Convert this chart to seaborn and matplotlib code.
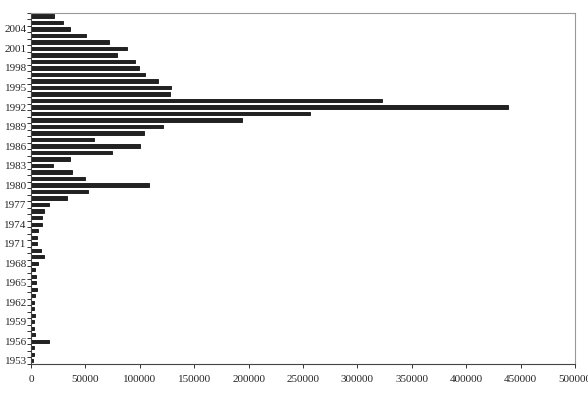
import numpy as np
import pandas as pd
import matplotlib
matplotlib.use("Agg")
import matplotlib.pyplot as plt
import seaborn as sns

# years from top (2006) down to 1953
years = list(range(2006, 1952, -1))
values = [21000, 29000, 36000, 51000, 72000, 88500, 79000, 95500, 99000, 105000,
          116500, 128500, 128000, 323000, 438500, 256500, 193500, 121500, 103500, 58000,
          100000, 74500, 36000, 20000, 37500, 50000, 108000, 52000, 33500, 17000,
          11500, 10000, 10000, 6000, 5800, 5800, 9200, 12000, 6000, 3400,
          4900, 4900, 5200, 4000, 3100, 3100, 3400, 2800, 3100, 3700,
          16800, 2500, 3100, 2100]
label_years = list(range(1953, 2005, 3))

df = pd.DataFrame({"year": [str(y) for y in years], "value": values})

sns.set_style("white")
plt.rcParams["font.family"] = ["Liberation Serif", "DejaVu Serif"]

fig, ax = plt.subplots(figsize=(5.88, 4.04), dpi=100)
fig.subplots_adjust(left=31 / 588, right=575 / 588, top=1 - 12.7 / 404, bottom=1 - 364 / 404)

sns.barplot(data=df, x="value", y="year", order=[str(y) for y in years],
            color="#222222", saturation=1, width=0.5, orient="h",
            edgecolor="#222222", linewidth=0.7, ax=ax)

ax.set_xlim(0, 500000)
ax.set_ylim(len(years) - 0.5, -0.5)
ax.set_xticks(np.arange(0, 500001, 50000))
ax.set_xticklabels([str(v) for v in range(0, 500001, 50000)], fontsize=8)

ax.set_yticks([years.index(y) for y in label_years])
ax.set_yticklabels([str(y) for y in label_years], fontsize=8)
ax.set_yticks(np.arange(-0.5, len(years), 1), minor=True)
ax.tick_params(axis="y", which="major", length=0, pad=3)
ax.tick_params(axis="y", which="minor", length=3, width=0.7, color="#333333", direction="out", left=True)
ax.tick_params(axis="x", which="major", length=3, width=0.7, color="#333333", direction="out", bottom=True, pad=5)

ax.set_xlabel("")
ax.set_ylabel("")
for side in ["left", "bottom"]:
    ax.spines[side].set_color("#444444")
    ax.spines[side].set_linewidth(0.8)
for side in ["top", "right"]:
    ax.spines[side].set_color("#999999")
    ax.spines[side].set_linewidth(0.8)

fig.savefig("out.png", dpi=100)
